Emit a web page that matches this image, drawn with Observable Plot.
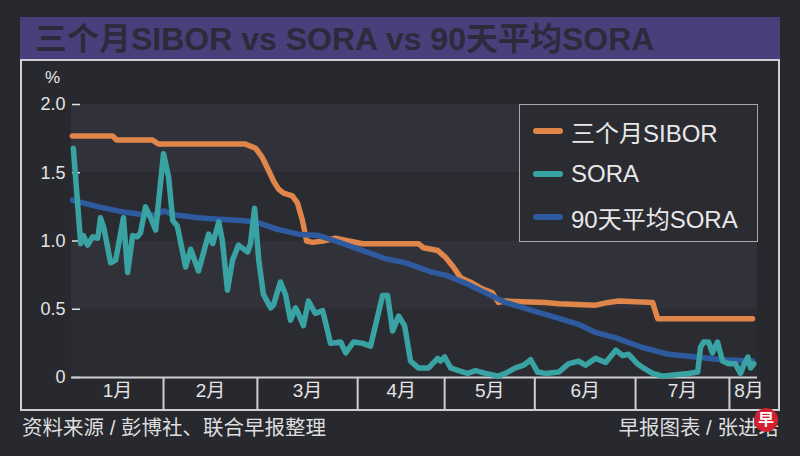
<!DOCTYPE html>
<html><head><meta charset="utf-8">
<script src="https://cdn.jsdelivr.net/npm/d3@7"></script>
<script src="https://cdn.jsdelivr.net/npm/@observablehq/plot@0.6"></script>
<style>
body{margin:0;background:#28292f;}
#wrap{position:relative;width:800px;height:456px;background:#28292f;overflow:hidden;font-family:"Liberation Sans","Noto Sans CJK SC",sans-serif;}
#titlebar{position:absolute;left:20px;top:17px;width:760px;height:43px;background:#4a3e7b;color:#2c2b3b;font-weight:bold;font-size:32px;line-height:44px;padding-left:15px;box-sizing:border-box;white-space:nowrap;}
#box{position:absolute;left:20px;top:59px;width:760px;height:352px;box-sizing:border-box;border:2px solid #cfcfd2;}
#chart{position:absolute;left:0;top:0;}
#pct{position:absolute;left:45px;top:68px;font-size:17px;color:#e6e6e6;}
#legend{position:absolute;left:519px;top:104px;width:239px;height:138px;box-sizing:border-box;border:1.5px solid #a8a8ab;background:#2b2c32;}
.row{position:absolute;left:13px;height:30px;display:flex;align-items:center;font-size:24px;color:#e8e8e8;white-space:nowrap;}
.sw{width:30px;height:6px;border-radius:3px;margin-right:8px;}
#src{position:absolute;left:22px;top:411px;font-size:20.5px;color:#dedede;white-space:nowrap;}
#credit{position:absolute;right:21px;top:411px;font-size:20.5px;color:#dedede;white-space:nowrap;}
#logo{position:absolute;left:754px;top:408px;width:24px;height:24px;border-radius:50%;background:#d2202f;color:#fff;font-weight:bold;font-size:16px;line-height:24px;text-align:center;}
</style></head><body>
<div id="wrap">
  <div id="titlebar">三个月SIBOR vs SORA vs 90天平均SORA</div>
  <div id="box"></div>
  <div id="chart"></div>
  <div id="pct">%</div>
  <div id="legend"></div>
  <div id="src">资料来源 / 彭博社、联合早报整理</div>
  <div id="credit">早报图表 / 张进培</div>
  <div id="logo">早</div>
</div>
<script>
// x = trading-day index since start of 2020
const monthLabels = ["1月","2月","3月","4月","5月","6月","7月","8月"];
const monthBounds = [0, 20.0, 40.4, 62.2, 81.1, 100.7, 122.6, 143.0, 151.5];
const xDomain = [0, 149.1];
const yTicks = [0, 0.5, 1, 1.5, 2];
const yTickLabels = ["0", "0.5", "1.0", "1.5", "2.0"];
const bandsLight = [[0.5, 1.0], [1.5, 2.0]];
const bandsDark = [[0, 0.5], [1.0, 1.5]];

const seriesNames = ["三个月SIBOR", "SORA", "90天平均SORA"];
const seriesColors = ["#e0864a", "#39a3a4", "#2e5b9f"];

const sibDay = [0.2, 8.9, 9.8, 17.6, 18.9, 37.8, 40.0, 41.5, 42.8, 43.9, 45.0, 46.1, 48.0, 49.1, 50.2, 51.1, 52.4, 54.6, 57.4, 60.2, 63.3, 75.4, 76.5, 79.6, 81.3, 83.0, 84.6, 87.2, 89.3, 91.5, 92.8, 94.3, 103.0, 105.9, 113.9, 116.7, 118.9, 126.3, 127.4, 148.0];
const sibVal = [1.77, 1.77, 1.74, 1.74, 1.71, 1.71, 1.68, 1.61, 1.52, 1.44, 1.38, 1.35, 1.33, 1.28, 1.15, 1.00, 0.99, 1.00, 1.02, 1.00, 0.98, 0.98, 0.95, 0.93, 0.88, 0.81, 0.73, 0.69, 0.65, 0.62, 0.55, 0.56, 0.55, 0.54, 0.53, 0.55, 0.56, 0.55, 0.43, 0.43];

const soraDay = [0.4, 2.0, 2.6, 3.5, 4.6, 5.7, 6.3, 7.0, 8.5, 9.6, 11.3, 12.2, 13.3, 14.3, 15.0, 16.1, 17.2, 18.3, 20.0, 21.1, 22.0, 23.0, 24.8, 25.9, 27.6, 29.8, 30.7, 32.0, 32.8, 33.9, 35.0, 36.3, 38.3, 38.9, 39.8, 40.7, 41.7, 43.3, 43.9, 45.4, 46.5, 47.6, 48.7, 49.3, 50.4, 51.5, 53.0, 54.6, 56.3, 58.5, 59.6, 61.3, 63.3, 65.0, 67.6, 68.7, 69.8, 71.1, 72.4, 73.7, 75.4, 77.6, 79.6, 80.2, 81.1, 82.4, 84.1, 86.1, 87.8, 90.0, 92.8, 94.3, 96.5, 98.3, 99.8, 101.3, 103.0, 105.9, 108.0, 110.2, 111.7, 113.9, 116.1, 118.3, 119.8, 121.1, 123.0, 124.3, 126.3, 128.5, 131.3, 134.1, 136.1, 136.7, 137.4, 138.5, 139.3, 140.4, 141.5, 142.8, 144.3, 145.4, 146.1, 147.0, 147.6, 148.3];
const soraVal = [1.68, 0.98, 1.04, 0.97, 1.03, 1.02, 1.17, 1.10, 0.84, 0.86, 1.17, 0.77, 1.04, 1.03, 1.06, 1.25, 1.17, 1.08, 1.64, 1.47, 1.15, 1.11, 0.81, 0.94, 0.78, 1.05, 0.98, 1.14, 1.00, 0.64, 0.86, 0.97, 0.92, 0.98, 1.24, 0.86, 0.61, 0.51, 0.53, 0.70, 0.61, 0.42, 0.51, 0.47, 0.38, 0.56, 0.47, 0.49, 0.25, 0.26, 0.18, 0.26, 0.25, 0.23, 0.60, 0.60, 0.34, 0.45, 0.38, 0.12, 0.07, 0.07, 0.14, 0.12, 0.15, 0.07, 0.05, 0.03, 0.05, 0.03, 0.01, 0.03, 0.07, 0.09, 0.13, 0.04, 0.03, 0.04, 0.10, 0.12, 0.09, 0.14, 0.11, 0.20, 0.16, 0.17, 0.10, 0.07, 0.03, 0.01, 0.02, 0.03, 0.04, 0.22, 0.26, 0.26, 0.18, 0.26, 0.12, 0.10, 0.10, 0.03, 0.09, 0.15, 0.07, 0.10];

const avgDay = [0.2, 5.9, 11.7, 16.1, 18.3, 20.0, 22.6, 27.6, 32.0, 36.7, 40.0, 44.3, 49.3, 53.7, 57.4, 63.3, 68.3, 72.6, 78.5, 81.3, 85.7, 90.0, 94.3, 100.2, 105.2, 110.2, 113.9, 118.3, 124.1, 129.8, 135.7, 141.5, 148.0];
const avgVal = [1.30, 1.25, 1.21, 1.19, 1.19, 1.22, 1.19, 1.17, 1.16, 1.15, 1.14, 1.09, 1.05, 1.04, 1.00, 0.93, 0.87, 0.84, 0.77, 0.75, 0.69, 0.62, 0.55, 0.49, 0.44, 0.39, 0.33, 0.29, 0.22, 0.17, 0.15, 0.13, 0.12];

const toRows = (days, vals) => days.map((d, i) => ({day: d, rate: vals[i]}));
const sib = toRows(sibDay, sibVal);
const sora = toRows(soraDay, soraVal);
const avg = toRows(avgDay, avgVal);

const monthSeps = monthBounds.slice(1, -1);
const monthMids = monthLabels.map((m, i) => (monthBounds[i] + monthBounds[i + 1]) / 2);

const lineOpts = {x: "day", y: "rate", strokeWidth: 5.5, strokeLinejoin: "round", strokeLinecap: "round"};

const chart = Plot.plot({
  width: 800, height: 456,
  marginLeft: 71, marginRight: 43, marginTop: 104, marginBottom: 79,
  x: {domain: xDomain, label: null},
  y: {domain: [0, 2], label: null},
  style: {background: "transparent", color: "#e4e4e4", fontFamily: '"Liberation Sans","Noto Sans CJK SC",sans-serif', overflow: "visible"},
  marks: [
    Plot.rectY(bandsLight, {y1: d => d[0], y2: d => d[1], fill: "#313239"}),
    Plot.rectY(bandsDark, {y1: d => d[0], y2: d => d[1], fill: "#2b2c32"}),
    Plot.axisY({ticks: yTicks, label: null, tickSize: 8, tickPadding: 7, dx: 9, strokeWidth: 1.5, fontSize: 18, tickFormat: d => yTickLabels[yTicks.indexOf(d)]}),
    Plot.axisX({ticks: monthSeps, label: null, tickSize: 33, tickFormat: () => "", stroke: "#cfcfd2", strokeWidth: 2}),
    Plot.axisX({ticks: monthMids, label: null, tickSize: 0, tickPadding: 6, fontSize: 19, tickFormat: d => monthLabels[monthMids.indexOf(d)]}),
    Plot.ruleY([0], {stroke: "#cfcfd2", strokeWidth: 2}),
    Plot.line(sib, {...lineOpts, stroke: seriesColors[0]}),
    Plot.line(avg, {...lineOpts, stroke: seriesColors[2]}),
    Plot.line(sora, {...lineOpts, stroke: seriesColors[1]})
  ]
});
document.getElementById("chart").appendChild(chart);

const legend = document.getElementById("legend");
seriesNames.forEach((name, i) => {
  const row = document.createElement("div");
  row.className = "row";
  row.style.top = (11 + i * 43) + "px";
  row.innerHTML = `<span class="sw" style="background:${seriesColors[i]}"></span><span>${name}</span>`;
  legend.appendChild(row);
});
</script>
</body></html>
